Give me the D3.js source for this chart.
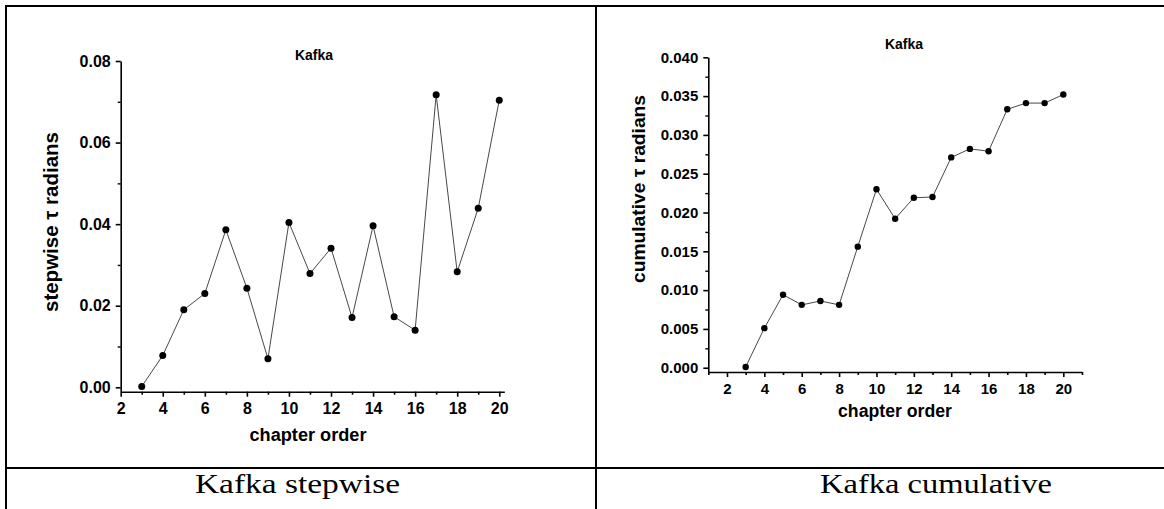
<!DOCTYPE html>
<html><head><meta charset="utf-8">
<script src="https://cdn.jsdelivr.net/npm/d3@7"></script>
<style>
html,body{margin:0;padding:0;background:#fff;}
svg{display:block;}
.tk text{font-family:"Liberation Sans",Arial,sans-serif;font-weight:bold;fill:#000;}
</style>
</head><body>
<svg id="c" width="1164" height="509"></svg>
<script>
// ---- data ----
const chapters = [3,4,5,6,7,8,9,10,11,12,13,14,15,16,17,18,19,20];
const stepwise = [0.0002,0.0078,0.0190,0.0230,0.0386,0.0243,0.0070,0.0404,0.0279,0.0341,0.0171,0.0396,0.0173,0.0140,0.0717,0.0283,0.0439,0.0704];
const cumulative = [0.0001,0.0051,0.0094,0.0081,0.0086,0.0081,0.0156,0.0230,0.0192,0.0219,0.0220,0.0271,0.0282,0.0279,0.0333,0.0341,0.0341,0.0352];
const xTicksMajor = [2,4,6,8,10,12,14,16,18,20];
const leftXMinor = [3,5,7,9,11,13,15,17,19];
const rightXMinor = [1,3,5,7,9,11,13,15,17,19,21];
const leftYMajor = [0.00,0.02,0.04,0.06,0.08];
const leftYMinor = [0.01,0.03,0.05,0.07];
const rightYMajor = [0.000,0.005,0.010,0.015,0.020,0.025,0.030,0.035,0.040];
const rightYMinor = [0.0025,0.0075,0.0125,0.0175,0.0225,0.0275,0.0325,0.0375];
const titles = ["Kafka","Kafka"];
const xTitle = "chapter order";
const yTitles = ["stepwise \u03c4 radians","cumulative \u03c4 radians"];
const captions = ["Kafka stepwise","Kafka cumulative"];

const svg = d3.select("#c");
const FONT = '"Liberation Sans",Arial,sans-serif';

// table lines
const tbl = svg.append("g").attr("stroke","#000").attr("stroke-width",2);
tbl.append("line").attr("x1",5).attr("x2",1164).attr("y1",6).attr("y2",6);
tbl.append("line").attr("x1",6).attr("x2",6).attr("y1",5).attr("y2",509);
tbl.append("line").attr("x1",596).attr("x2",596).attr("y1",5).attr("y2",509);
tbl.append("line").attr("x1",5).attr("x2",1164).attr("y1",468).attr("y2",468);

function panel(cfg){
  const x = d3.scaleLinear().domain(cfg.xDom).range(cfg.xRange);
  const y = d3.scaleLinear().domain(cfg.yDom).range(cfg.yRange);
  const g = svg.append("g");
  const ax0 = cfg.yRange[0];
  const ay0 = cfg.xRange[0];
  // x axis
  const xa = g.append("g").attr("class","tk").attr("transform",`translate(0,${ax0})`)
    .call(d3.axisBottom(x).tickValues(xTicksMajor).tickSize(5).tickSizeOuter(0).tickPadding(cfg.xPad).tickFormat(d3.format("d")));
  xa.selectAll("text").style("font-size",cfg.xFs+"px");
  g.append("g").attr("transform",`translate(0,${ax0})`)
    .call(d3.axisBottom(x).tickValues(cfg.xMinor).tickSize(3).tickSizeOuter(0).tickFormat(""))
    .select(".domain").remove();
  // y axis
  const ya = g.append("g").attr("class","tk").attr("transform",`translate(${ay0},0)`)
    .call(d3.axisLeft(y).tickValues(cfg.yMajor).tickSize(5).tickSizeOuter(0).tickPadding(5).tickFormat(d3.format(cfg.yFmt)));
  ya.selectAll("text").style("font-size",cfg.yFs+"px");
  g.selectAll(".domain, .tick line").attr("stroke","#000").attr("stroke-width",1.6);
  g.append("g").attr("transform",`translate(${ay0},0)`)
    .call(d3.axisLeft(y).tickValues(cfg.yMinor).tickSize(3).tickSizeOuter(0).tickFormat(""))
    .call(s=>s.select(".domain").remove())
    .selectAll(".tick line").attr("stroke","#000").attr("stroke-width",1.4);

  // line + markers
  const pts = chapters.map((c,i)=>[c,cfg.vals[i]]);
  g.append("path").datum(pts).attr("fill","none").attr("stroke","#333").attr("stroke-width",0.9)
    .attr("d",d3.line().x(d=>x(d[0])).y(d=>y(d[1])));
  g.selectAll("circle.pt").data(pts).enter().append("circle").attr("class","pt")
    .attr("cx",d=>x(d[0])).attr("cy",d=>y(d[1])).attr("r",cfg.r).attr("fill","#000");

  // texts
  g.append("text").attr("x",cfg.titleX).attr("y",cfg.titleY).attr("text-anchor","middle")
    .style("font-family",FONT).style("font-weight","bold").style("font-size","14px").text(cfg.title);
  g.append("text").attr("x",cfg.xtX).attr("y",cfg.xtY).attr("text-anchor","middle")
    .attr("textLength",cfg.xtLen).attr("lengthAdjust","spacingAndGlyphs")
    .style("font-family",FONT).style("font-weight","bold").style("font-size",cfg.xtFs+"px").text(xTitle);
  g.append("text").attr("transform",`translate(${cfg.ytX},${cfg.ytY}) rotate(-90)`).attr("text-anchor","middle")
    .attr("textLength",cfg.ytLen).attr("lengthAdjust","spacingAndGlyphs")
    .style("font-family",FONT).style("font-weight","bold").style("font-size",cfg.ytFs+"px").text(cfg.ytitle);
}

panel({
  xDom:[2,20.24], xRange:[120.7,504.3], yDom:[-0.00108,0.08], yRange:[391.7,61],
  xMinor:leftXMinor, yMajor:leftYMajor, yMinor:leftYMinor, yFmt:".2f",
  xFs:16, yFs:16, xPad:6, vals:stepwise, r:3.5,
  title:titles[0], titleX:314, titleY:60,
  xtX:308, xtY:441, xtLen:117, xtFs:18,
  ytitle:yTitles[0], ytX:58, ytY:222, ytLen:180, ytFs:20
});
panel({
  xDom:[1,21], xRange:[708.3,1082], yDom:[-0.00055,0.04], yRange:[372,57.3],
  xMinor:rightXMinor, yMajor:rightYMajor, yMinor:rightYMinor, yFmt:".3f",
  xFs:15, yFs:15, xPad:6, vals:cumulative, r:3.2,
  title:titles[1], titleX:904, titleY:49,
  xtX:895, xtY:417, xtLen:114, xtFs:18,
  ytitle:yTitles[1], ytX:645, ytY:189, ytLen:188, ytFs:18
});

// captions
svg.append("text").attr("x",195).attr("y",493).attr("textLength",205).attr("lengthAdjust","spacingAndGlyphs")
  .style("font-family",'"Liberation Serif","Times New Roman",serif').style("font-size","28px").text(captions[0]);
svg.append("text").attr("x",820).attr("y",493).attr("textLength",232).attr("lengthAdjust","spacingAndGlyphs")
  .style("font-family",'"Liberation Serif","Times New Roman",serif').style("font-size","28px").text(captions[1]);
</script>
</body></html>
